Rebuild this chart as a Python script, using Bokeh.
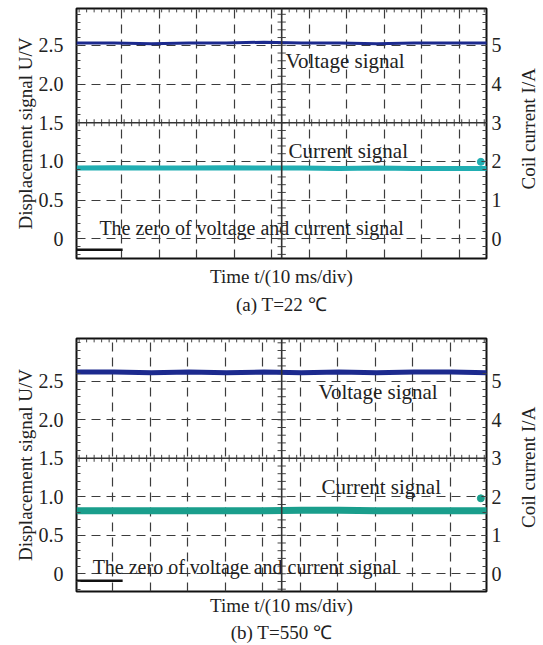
import numpy as np
from bokeh.plotting import figure
from bokeh.models import (Range1d, LinearAxis, FixedTicker, Title, Span, Grid,
                          CustomJSTickFormatter)
from bokeh.layouts import column, row
from bokeh.embed import file_html
from bokeh.resources import INLINE
from bokeh.core.properties import value

# ---------------- data ----------------
time_ms = [0, 10, 20, 30, 40, 50, 60, 70, 80, 90, 100, 110]
voltage_a = [2.53, 2.53, 2.52, 2.53, 2.53, 2.54, 2.53, 2.53, 2.52, 2.53, 2.53, 2.53]   # V
current_a = [1.83, 1.84, 1.83, 1.83, 1.84, 1.83, 1.83, 1.82, 1.83, 1.82, 1.82, 1.82]   # A
voltage_b = [2.62, 2.62, 2.61, 2.62, 2.61, 2.62, 2.61, 2.62, 2.61, 2.62, 2.62, 2.61]   # V
current_b = [1.64, 1.64, 1.64, 1.64, 1.64, 1.64, 1.65, 1.65, 1.64, 1.64, 1.64, 1.64]   # A
zero_mark_a = -0.14      # V, black zero reference mark
zero_mark_b = -0.09
zero_mark_len_ms = 12.3
chan_marker_a = 1.99     # A, channel marker at right edge
chan_marker_b = 1.96

voltage_ticks = [0, 0.5, 1.0, 1.5, 2.0, 2.5]
current_ticks = [0, 1, 2, 3, 4, 5]
x_end_ms = 109.3
center_ms = 54.7
grid_first_a = 12.0
grid_first_b = 9.6

FONT = value("Liberation Serif")
FONTN = "Liberation Serif"
GRID_C = "#3c3c3c"
TXT_C = "#222222"
MAIN_W = 510
SIDE_W = 33


def make_panel(volt, curr, zero_v, y_lo, y_hi, grid_first, caption, height,
               top_b, frame_h, cur_color, volt_color, mk_val, txt, volt_w, cur_w,
               xlab_standoff, cap_standoff):
    p = figure(width=MAIN_W, height=height, output_backend="svg", toolbar_location=None,
               x_range=Range1d(0, x_end_ms), y_range=Range1d(y_lo, y_hi),
               x_axis_type=None, y_axis_type=None,
               min_border_left=76, min_border_right=MAIN_W - 486,
               min_border_top=top_b, min_border_bottom=height - top_b - frame_h)
    p.extra_y_ranges = {"cur": Range1d(2 * y_lo, 2 * y_hi)}
    p.outline_line_color = "#111111"
    p.outline_line_width = 2
    p.background_fill_color = "white"
    p.border_fill_color = "white"

    # dashed graticule
    gx = [g for g in np.arange(grid_first, x_end_ms, 10.0)]
    p.add_layout(Grid(dimension=0, ticker=FixedTicker(ticks=gx),
                      grid_line_color=GRID_C, grid_line_dash="9 6", grid_line_width=1.2))
    gy = [v for v in voltage_ticks if v != 1.5]
    p.add_layout(Grid(dimension=1, ticker=FixedTicker(ticks=gy),
                      grid_line_color=GRID_C, grid_line_dash="9 6", grid_line_width=1.2))

    # center cross with ticks
    p.add_layout(Span(location=center_ms, dimension="height", line_color="#333333", line_width=1.6))
    p.add_layout(Span(location=1.5, dimension="width", line_color="#333333", line_width=1.6))
    ty = np.arange(-0.2, y_hi, 0.1)
    p.segment(x0=center_ms - 1.1, x1=center_ms + 1.1, y0=ty, y1=ty, line_color="#444444", line_width=1)
    tx = np.arange(center_ms % 2.0, x_end_ms, 2.0)
    p.segment(x0=tx, x1=tx, y0=1.5 - 0.045, y1=1.5 + 0.045, line_color="#444444", line_width=1)
    p.segment(x0=tx, x1=tx, y0=y_hi, y1=y_hi - 0.05, line_color="#444444", line_width=1)

    # axes
    left = LinearAxis(ticker=FixedTicker(ticks=voltage_ticks,
                                         minor_ticks=list(np.round(np.arange(-0.2, 3.1, 0.1), 2))),
                      axis_label="Displacement signal U/V",
                      formatter=CustomJSTickFormatter(code="return tick == 0 ? '0' : tick.toFixed(1);"))
    right = LinearAxis(y_range_name="cur",
                       ticker=FixedTicker(ticks=current_ticks,
                                          minor_ticks=list(np.round(np.arange(-0.4, 6.2, 0.2), 2))))
    bottom = LinearAxis(ticker=FixedTicker(ticks=[], minor_ticks=[]),
                        axis_label="Time t/(10 ms/div)")
    for ax in (left, right, bottom):
        ax.axis_line_color = None
        ax.major_tick_out = 0
        ax.major_tick_in = 5
        ax.minor_tick_out = 0
        ax.minor_tick_in = 4
        ax.major_tick_line_color = "#333333"
        ax.minor_tick_line_color = "#444444"
        ax.major_label_text_font = FONTN
        ax.major_label_text_font_size = "20px"
        ax.major_label_text_color = TXT_C
        ax.axis_label_text_font = FONTN
        ax.axis_label_text_font_size = "19px"
        ax.axis_label_text_font_style = "normal"
        ax.axis_label_text_color = TXT_C
    left.major_label_standoff = 13
    left.axis_label_standoff = 0
    right.major_label_standoff = 5
    bottom.axis_label_standoff = xlab_standoff
    bottom.major_label_text_font_size = "0px"
    p.add_layout(left, "left")
    p.add_layout(right, "right")
    p.add_layout(bottom, "below")
    p.add_layout(Title(text=caption, align="center", text_font=FONTN, text_font_size="19px",
                       text_font_style="normal", text_color=TXT_C, standoff=cap_standoff), "below")

    # signals
    p.line(time_ms, volt, line_color=volt_color, line_width=volt_w)
    p.line(time_ms, curr, y_range_name="cur", line_color=cur_color, line_width=cur_w)
    p.segment(x0=[0], x1=[zero_mark_len_ms], y0=[zero_v], y1=[zero_v], line_color="#111111", line_width=2.5)
    p.scatter([107.8], [mk_val], y_range_name="cur", size=7, color=cur_color)

    for (tx_, ty_, s, fs) in txt:
        p.text(x=[tx_], y=[ty_], text=[s], text_font=FONT, text_font_size=fs,
               text_color=TXT_C, text_baseline="middle", text_align="left")
    return p


def side_label(height, y_frac):
    s = figure(width=SIDE_W, height=height, output_backend="svg", toolbar_location=None,
               x_range=Range1d(0, 1), y_range=Range1d(0, 1),
               x_axis_type=None, y_axis_type=None,
               min_border_left=0, min_border_right=0, min_border_top=0, min_border_bottom=0)
    s.outline_line_color = None
    s.background_fill_color = "white"
    s.border_fill_color = "white"
    s.text(x=[18 / SIDE_W], y=[y_frac], text=["Coil current I/A"], angle=np.pi / 2,
           text_align="center", text_baseline="middle", text_font=FONT,
           text_font_size="19px", text_color=TXT_C)
    return s


H_A = 316
H_B = 328
pa = make_panel(voltage_a, current_a, zero_mark_a, -0.253, 2.975, grid_first_a, "(a) T=22 ℃",
                H_A, 8, 252, "#21aeb2", "#1c2a8e", chan_marker_a,
                [(55.7, 2.30, "Voltage signal", "21px"), (56.5, 1.13, "Current signal", "21px"),
                 (6.1, 0.146, "The zero of voltage and current signal", "20px")], 3, 5, 7, 4)
pb = make_panel(voltage_b, current_b, zero_mark_b, -0.23, 3.056, grid_first_b, "(b) T=550 ℃",
                H_B, 22, 254, "#1a9e8c", "#1c2a8e", chan_marker_b,
                [(64.5, 2.36, "Voltage signal", "21px"), (65.3, 1.13, "Current signal", "21px"),
                 (4.3, 0.09, "The zero of voltage and current signal", "20px")], 5, 7, 3, 3)
sa = side_label(H_A, 1 - 152 / H_A)
sb = side_label(H_B, 1 - 167 / H_B)

layout = column(row(pa, sa), row(pb, sb))
open("out.html", "w").write(file_html(layout, INLINE))
